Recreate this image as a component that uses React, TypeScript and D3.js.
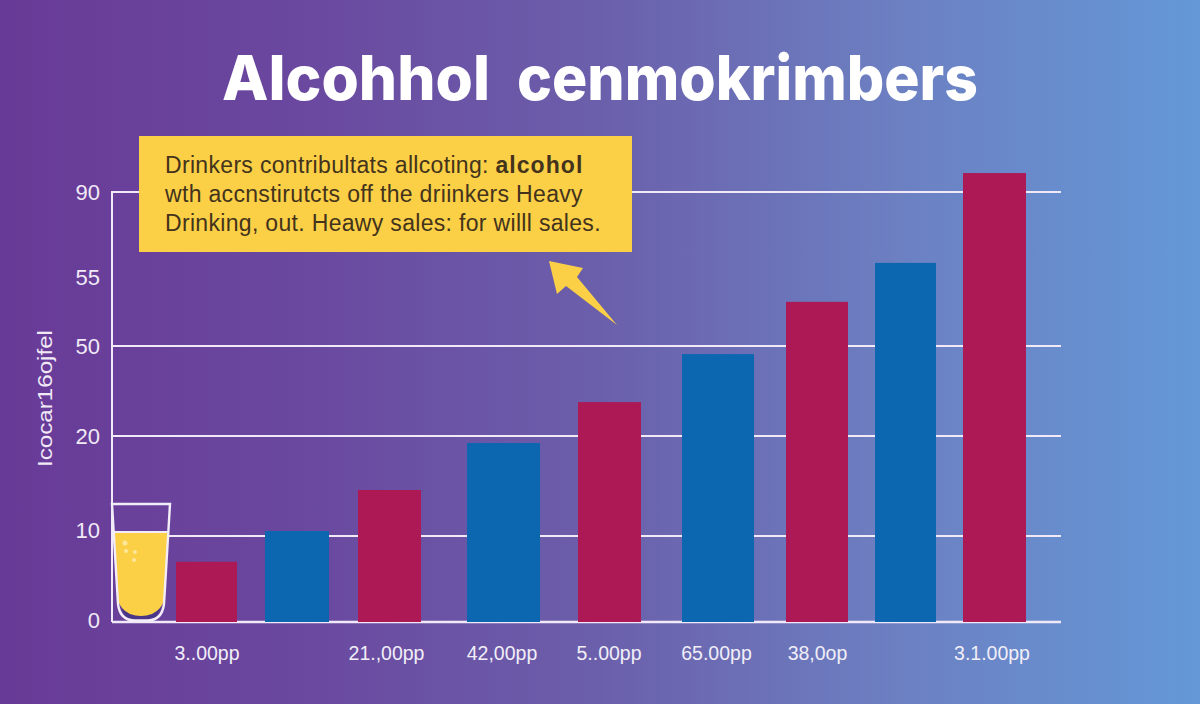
import React, { useEffect, useRef } from 'react'
import * as d3 from 'd3'

// data
const titleWords = ['Alcohhol', 'cenmokrimbers']
const yAxisLabel = 'Icocar16ojfel'
const barIds = [0, 1, 2, 3, 4, 5, 6, 7, 8]
const barValues = [7, 10.5, 14.6, 19.3, 31.3, 47.3, 53.2, 60.8, 97.8]
const barSeries = ['heavy', 'sales', 'heavy', 'sales', 'heavy', 'sales', 'heavy', 'sales', 'heavy']
const xTickLabels = ['3..00pp', null, '21.,00pp', '42,00pp', '5..00pp', '65.00pp', '38,0op', null, '3.1.00pp']
const yTickValues = [0, 10, 20, 50, 55, 90]
const gridValues = [10, 20, 50, 90]
const noteLines = [
  ['Drinkers contribultats allcoting: ', 'alcohol'],
  ['wth accnstirutcts off the driinkers Heavy', ''],
  ['Drinking, out. Heawy sales: for willl sales.', ''],
]

const WIDTH = 1200
const HEIGHT = 704
const FONT = '"Liberation Sans", Arial, sans-serif'

// the axis in the picture is not even, so the scale is piecewise
const y = d3
  .scaleLinear()
  .domain([0, 10, 20, 50, 55, 90])
  .range([622, 536, 436, 346, 277, 192])

// bars are not evenly spaced either
const xCentre = d3
  .scaleOrdinal<number, number>()
  .domain(barIds)
  .range([206.5, 297, 389.5, 503.5, 609.5, 718, 817, 905.5, 994.5])

// the labels don't sit quite under their bars
const xLabel = d3
  .scaleOrdinal<number, number>()
  .domain(barIds)
  .range([206.5, 297, 386, 501.5, 608.5, 716, 817, 905.5, 991.5])

const barWidth = d3
  .scaleOrdinal<number, number>()
  .domain(barIds)
  .range([61, 64, 63, 73, 63, 72, 62, 61, 63])

const colour = d3
  .scaleOrdinal<string, string>()
  .domain(['heavy', 'sales'])
  .range(['#AD1955', '#0C66B0'])

export default function App() {
  const axisRef = useRef<SVGGElement>(null)

  useEffect(() => {
    document.body.style.margin = '0'
    const g = d3.select(axisRef.current)
    g.selectAll('*').remove()

    // y axis, labels only
    const yAxis = g
      .append('g')
      .attr('transform', 'translate(100,0)')
      .call(d3.axisLeft(y).tickValues(yTickValues).tickSize(0).tickPadding(0).tickFormat(d3.format('d')))
    yAxis.select('.domain').remove()
    yAxis
      .selectAll('text')
      .attr('fill', '#F1E9F6')
      .attr('font-family', FONT)
      .attr('font-size', 22)
      .attr('dy', '0.36em')
    // the two lowest labels ride a little above their lines
    yAxis
      .selectAll('.tick')
      .filter((d: any) => d === 10)
      .select('text')
      .attr('y', -6)
    yAxis
      .selectAll('.tick')
      .filter((d: any) => d === 0)
      .select('text')
      .attr('y', -2)

    // x axis, only some bars have a label
    const xAxis = g
      .append('g')
      .attr('transform', 'translate(0,622)')
      .call(
        d3
          .axisBottom(xLabel as any)
          .tickValues(barIds.filter((i) => xTickLabels[i] !== null))
          .tickSize(0)
          .tickPadding(24)
          .tickFormat((i: any) => xTickLabels[i] as string)
      )
    xAxis.select('.domain').remove()
    xAxis
      .selectAll('text')
      .attr('fill', '#F1EEF8')
      .attr('font-family', FONT)
      .attr('font-size', 19.5)
  }, [])

  return (
    <svg width={WIDTH} height={HEIGHT} style={{ display: 'block' }}>
      <defs>
        <linearGradient id="bg" x1="0" x2="1" y1="0" y2="0">
          <stop offset="0" stopColor="#683A97" />
          <stop offset="0.25" stopColor="#6A489F" />
          <stop offset="0.5" stopColor="#6B5FAB" />
          <stop offset="0.75" stopColor="#6C80C2" />
          <stop offset="1" stopColor="#6498D7" />
        </linearGradient>
      </defs>
      <rect width={WIDTH} height={HEIGHT} fill="url(#bg)" />

      <g
        fill="#fff"
        fontFamily='Inter, "Liberation Sans", sans-serif'
        fontWeight={800}
        fontSize={62}
      >
        <text x={222} y={100} textLength={268} lengthAdjust="spacingAndGlyphs">
          {titleWords[0]}
        </text>
        <text x={517} y={100} textLength={461} lengthAdjust="spacingAndGlyphs">
          {titleWords[1]}
        </text>
      </g>

      {/* grid and axis lines */}
      {gridValues.map((v) => (
        <line key={v} x1={112} x2={1061} y1={y(v)} y2={y(v)} stroke="#F1E9F8" strokeWidth={2} />
      ))}
      <line x1={112} x2={112} y1={y(90) - 1} y2={y(0)} stroke="#F1E9F8" strokeWidth={2} />
      <line x1={112} x2={1061} y1={y(0)} y2={y(0)} stroke="#F1E9F8" strokeWidth={2.5} />

      {/* bars */}
      {barIds.map((i) => (
        <rect
          key={i}
          x={xCentre(i) - barWidth(i) / 2}
          width={barWidth(i)}
          y={y(barValues[i])}
          height={y(0) - y(barValues[i])}
          fill={colour(barSeries[i])}
        />
      ))}

      <g ref={axisRef} />

      <text
        transform="translate(52,398.5) rotate(-90)"
        textAnchor="middle"
        fill="#F1E9F6"
        fontFamily={FONT}
        fontSize={20}
        textLength={137}
        lengthAdjust="spacingAndGlyphs"
      >
        {yAxisLabel}
      </text>

      {/* note box */}
      <rect x={139} y={136} width={493} height={116} fill="#FBCF46" />
      <g fontFamily={FONT} fontSize={23} fill="#43331C" letterSpacing={0.32}>
        {noteLines.map((line, i) => (
          <text key={i} x={165} y={172.5 + i * 29.2}>
            {line[0]}
            {line[1] && (
              <tspan fontWeight={700} letterSpacing={1.05}>
                {line[1]}
              </tspan>
            )}
          </text>
        ))}
      </g>
      <path d="M549,261 L583,268 L577,277 L617,325 L566,286 L557,294 Z" fill="#FBCF46" />

      {/* glass of beer */}
      <path d="M119,600 Q124,621 134,621 L148,621 Q158,621 163,600 Z" fill="#4A3686" />
      <path
        d="M114,532 L168,532 L164,600 Q162,609 152,614 Q141,618 130,614 Q120,609 118,600 Z"
        fill="#FBCF46"
      />
      <path
        d="M112,504 L170,504 L164,604 Q162,620 148,620.5 L134,620.5 Q120,620 118,604 Z"
        fill="none"
        stroke="#F3EDF8"
        strokeWidth={2.4}
      />
      <line x1={113} x2={169} y1={532} y2={532} stroke="#F3EDF8" strokeWidth={2} />
      <g fill="#FDE79A">
        <circle cx={125} cy={543} r={2.5} />
        <circle cx={126} cy={551} r={2} />
        <circle cx={135} cy={552} r={2} />
        <circle cx={134} cy={560} r={2} />
      </g>
    </svg>
  )
}
